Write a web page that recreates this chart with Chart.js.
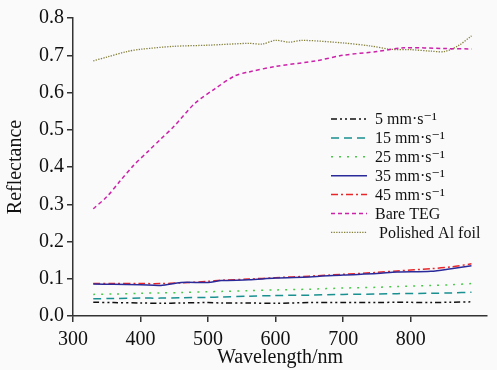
<!DOCTYPE html>
<html>
<head>
<meta charset="utf-8">
<script src="https://cdn.jsdelivr.net/npm/chart.js@4.4.0/dist/chart.umd.min.js"></script>
<style>
  html, body { margin: 0; padding: 0; background: #fafafa; }
  #wrap { width: 497px; height: 370px; }
</style>
</head>
<body>
<div id="wrap"><canvas id="myChart" width="497" height="370"></canvas></div>
<script>
// data (wavelength nm -> reflectance)
const wlLow = [330, 360, 400, 430, 460, 500, 520, 560, 600, 650, 700, 750, 780, 830, 860, 890];
const v5  = [0.037, 0.036, 0.035, 0.034, 0.035, 0.036, 0.035, 0.035, 0.034, 0.036, 0.036, 0.036, 0.037, 0.036, 0.037, 0.038];
const v15 = [0.046, 0.047, 0.048, 0.048, 0.049, 0.050, 0.051, 0.053, 0.055, 0.056, 0.058, 0.059, 0.060, 0.061, 0.062, 0.064];
const v25 = [0.058, 0.059, 0.061, 0.062, 0.063, 0.065, 0.066, 0.068, 0.070, 0.072, 0.075, 0.077, 0.079, 0.082, 0.084, 0.087];
const v35 = [0.086, 0.085, 0.084, 0.082, 0.090, 0.090, 0.095, 0.097, 0.102, 0.105, 0.110, 0.114, 0.118, 0.120, 0.127, 0.135];
const v45 = [0.087, 0.087, 0.087, 0.087, 0.089, 0.093, 0.096, 0.099, 0.103, 0.107, 0.112, 0.117, 0.121, 0.127, 0.132, 0.140];

const wlTeg = [330, 350, 370, 390, 410, 430, 450, 480, 510, 540, 560, 600, 660, 700, 750, 790, 850, 890];
const vTeg  = [0.288, 0.320, 0.363, 0.405, 0.440, 0.475, 0.510, 0.570, 0.610, 0.645, 0.655, 0.670, 0.685, 0.700, 0.710, 0.720, 0.718, 0.717];

const wlAl = [330, 350, 380, 400, 450, 500, 560, 580, 600, 620, 640, 700, 740, 770, 800, 830, 850, 870, 890];
const vAl  = [0.685, 0.695, 0.710, 0.716, 0.724, 0.727, 0.732, 0.730, 0.740, 0.735, 0.740, 0.733, 0.725, 0.716, 0.715, 0.711, 0.710, 0.725, 0.752];

const labels = ["5 mm\u00b7s\u207b\u00b9", "15 mm\u00b7s\u207b\u00b9", "25 mm\u00b7s\u207b\u00b9", "35 mm\u00b7s\u207b\u00b9", "45 mm\u00b7s\u207b\u00b9", "Bare TEG", "Polished Al foil"];

function pts(xs, ys) {
    return xs.map((x, i) => ({x: x, y: ys[i]}));
}

const serif = "'Liberation Serif', 'DejaVu Serif', serif";

const bgPlugin = {
    id: "bg",
    beforeDraw(chart) {
        const c = chart.ctx;
        c.save();
        c.fillStyle = "#fafafa";
        c.fillRect(0, 0, chart.width, chart.height);
        c.restore();
    }
};

// legend drawn inside the plot, like the original
const legendPlugin = {
    id: "insideLegend",
    afterDraw(chart) {
        const c = chart.ctx;
        const x0 = 331, x1 = 367, tx = 375;
        let y = 119;
        c.save();
        chart.data.datasets.forEach(ds => {
            c.beginPath();
            c.strokeStyle = ds.borderColor;
            c.lineWidth = ds.borderWidth;
            c.setLineDash(ds.borderDash || []);
            c.moveTo(x0, y);
            c.lineTo(x1, y);
            c.stroke();
            c.setLineDash([]);
            c.fillStyle = "#111";
            c.font = "16px " + serif;
            c.textBaseline = "middle";
            c.fillText(ds.label, ds.label.indexOf("Polished") === 0 ? tx + 4 : tx, y + 1);
            y += 18.9;
        });
        c.restore();
    }
};

const ctx = document.getElementById("myChart").getContext("2d");
const myChart = new Chart(ctx, {
    type: "line",
    data: {
        datasets: [
            {label: labels[0], data: pts(wlLow, v5),  borderColor: "#111111", borderWidth: 1.5, borderDash: [6, 3, 2, 3, 2, 3]},
            {label: labels[1], data: pts(wlLow, v15), borderColor: "#1a9090", borderWidth: 1.5, borderDash: [8, 5]},
            {label: labels[2], data: pts(wlLow, v25), borderColor: "#4cc84c", borderWidth: 1.5, borderDash: [2, 6]},
            {label: labels[3], data: pts(wlLow, v35), borderColor: "#2a2a9a", borderWidth: 1.5},
            {label: labels[4], data: pts(wlLow, v45), borderColor: "#e8262a", borderWidth: 1.5, borderDash: [7, 3, 2, 3]},
            {label: labels[5], data: pts(wlTeg, vTeg), borderColor: "#cc22aa", borderWidth: 1.5, borderDash: [4, 3]},
            {label: labels[6], data: pts(wlAl, vAl),  borderColor: "#85803c", borderWidth: 1.3, borderDash: [1.3, 1.3]}
        ]
    },
    options: {
        responsive: false,
        animation: false,
        elements: { point: { radius: 0 }, line: { tension: 0.3, fill: false } },
        layout: { padding: { top: 18, right: 10, left: 0, bottom: 0 } },
        plugins: { legend: { display: false }, tooltip: { enabled: false } },
        scales: {
            x: {
                type: "linear",
                min: 300,
                max: 913,
                afterBuildTicks: s => { s.ticks = s.ticks.filter(t => t.value % 100 === 0); },
                afterFit: s => { s.height = 54; },
                ticks: { stepSize: 100, color: "#111", font: { family: serif, size: 20 }, padding: 6, maxRotation: 0 },
                grid: { drawOnChartArea: false, drawTicks: true, tickLength: 6, color: "#333", lineWidth: 1.5 },
                border: { display: true, color: "#333", width: 1.5 },
                title: { display: true, text: "Wavelength/nm", color: "#111", font: { family: serif, size: 20 }, padding: { top: 0, bottom: 0 } }
            },
            y: {
                min: 0,
                max: 0.8,
                afterFit: s => { s.width = 73; },
                ticks: { stepSize: 0.1, color: "#111", font: { family: serif, size: 20 }, padding: 3, callback: v => v.toFixed(1) },
                grid: { drawOnChartArea: false, drawTicks: true, tickLength: 6, color: "#333", lineWidth: 1.5 },
                border: { display: true, color: "#333", width: 1.5 },
                title: { display: true, text: "Reflectance", color: "#111", font: { family: serif, size: 20 }, padding: { bottom: 0 } }
            }
        }
    },
    plugins: [bgPlugin, legendPlugin]
});
</script>
</body>
</html>
